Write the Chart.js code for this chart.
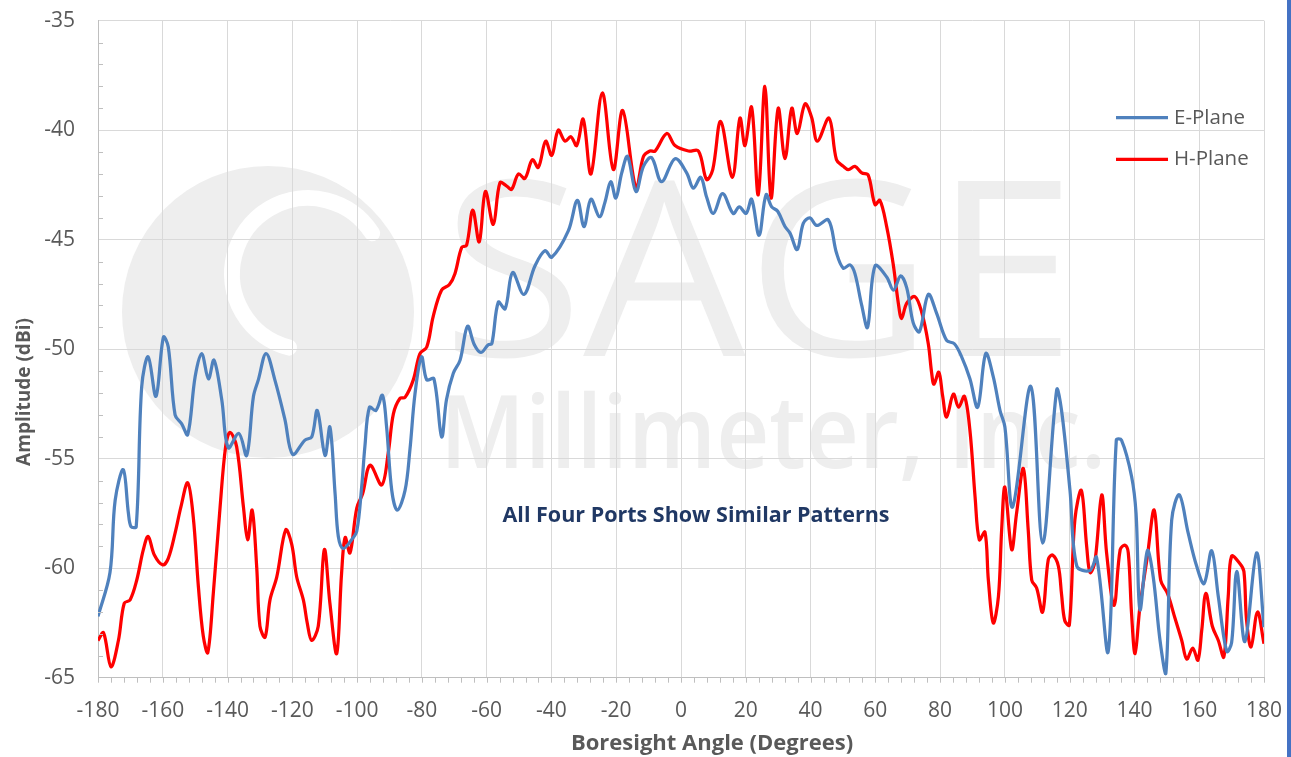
<!DOCTYPE html>
<html>
<head>
<meta charset="utf-8">
<title>Antenna Pattern</title>
<script src="https://cdn.jsdelivr.net/npm/chart.js@4.4.1/dist/chart.umd.min.js"></script>
<style>
    html, body { margin: 0; padding: 0; background: #fff; }
    #wrap { position: relative; width: 1291px; height: 757px; }
</style>
</head>
<body>
<div id="wrap"><canvas id="pattern" width="1291" height="757"></canvas></div>
<script>
"use strict";

// E-plane cut (deg, dBi)
const ePlaneAngle = [
    -180, -176.3, -174.7, -172.2, -170.6, -169.8, -168.2, -166.5, -164.5, -162.1,
    -159.8, -158.3, -156.2, -154.2, -152.3, -150.0, -148.0, -145.9, -144.2, -141.8,
    -139.8, -136.5, -134.1, -132.0, -130.5, -128.1, -125.4, -122.3, -119.9, -116.1,
    -114.0, -112.3, -109.9, -108.4, -106.8, -105.8, -104.3, -101.7, -100.1, -98.6,
    -97.6, -96.2, -94.2, -92.2, -90.9, -89.3, -87.6, -85.2, -83.7, -82.1,
    -80.1, -78.5, -76.3, -73.9, -72.4, -70.3, -68.2, -65.9, -63.8, -61.8,
    -59.5, -58.4, -56.4, -54.3, -52.0, -48.5, -45.1, -42.0, -39.9, -34.8,
    -32.0, -29.95, -27.8, -25.2, -23.5, -21.7, -20.1, -18.3, -16.5, -13.9,
    -11.6, -9.1, -6.0, -1.85, 1.75, 3.8, 6.1, 7.9, 10.0, 12.85,
    16.1, 18.0, 20.1, 21.8, 24.1, 26.25, 28.0, 29.85, 32.1, 33.65,
    35.9, 37.75, 39.8, 41.9, 45.5, 48.0, 50.1, 52.2, 53.7, 55.8,
    57.6, 59.9, 63.5, 65.6, 67.8, 69.7, 71.7, 73.6, 76.35, 78.9,
    82.0, 84.4, 86.65, 89.2, 91.6, 94.1, 96.4, 98.5, 100.0, 102.4,
    108.0, 111.65, 116.0, 117.5, 120.1, 122.2, 126.3, 128.3, 131.9, 134.4,
    136.0, 139.1, 140.5, 141.7, 144.0, 145.8, 147.9, 149.7, 151.5, 153.85,
    156.6, 159.2, 161.5, 163.85, 165.9, 168.5, 170.0, 171.6, 174.1, 177.7,
    180
];
const ePlaneDb = [
    -62.2, -60.2, -56.9, -55.5, -57.5, -58.1, -58.1, -51.7, -50.35, -52.15,
    -49.45, -49.9, -53.0, -53.4, -53.9, -51.25, -50.2, -51.35, -50.5, -52.3,
    -54.5, -53.85, -54.85, -52.15, -51.4, -50.2, -51.4, -53.2, -54.8, -54.15,
    -54.0, -52.8, -54.85, -53.55, -56.6, -58.55, -59.1, -58.7, -58.3, -56.3,
    -54.45, -52.65, -52.8, -52.1, -53.55, -56.45, -57.35, -56.45, -54.6, -52.0,
    -50.35, -51.4, -51.35, -54.0, -52.3, -51.1, -50.5, -48.95, -49.8, -50.15,
    -49.8, -49.75, -47.85, -48.15, -46.5, -47.5, -46.2, -45.5, -45.8, -44.6,
    -43.2, -44.4, -43.15, -43.95, -43.3, -42.35, -43.1, -41.95, -41.2, -42.8,
    -41.65, -41.25, -42.35, -41.3, -41.95, -42.65, -42.15, -43.05, -43.8, -42.9,
    -43.8, -43.5, -43.8, -43.15, -44.8, -42.95, -43.5, -43.7, -44.4, -44.7,
    -45.45, -44.25, -44.0, -44.35, -44.1, -45.6, -46.3, -46.15, -46.55, -48.0,
    -49.0, -46.2, -46.7, -47.3, -46.65, -47.2, -48.8, -49.2, -47.5, -48.35,
    -49.6, -49.75, -50.35, -51.35, -52.65, -50.2, -51.25, -52.8, -53.55, -57.2,
    -51.7, -58.85, -51.85, -52.8, -56.45, -59.9, -60.1, -59.5, -63.8, -54.15,
    -54.15, -55.8, -57.5, -61.9, -59.2, -60.4, -63.3, -64.8, -57.8, -56.65,
    -58.4, -59.9, -60.7, -59.2, -61.3, -63.8, -63.4, -60.15, -63.35, -59.3,
    -62.7
];

// H-plane cut (deg, dBi)
const hPlaneAngle = [
    -180, -178.3, -176.0, -173.7, -171.9, -170.1, -168.05, -166.0, -164.5, -162.6,
    -160.0, -158.3, -156.2, -154.4, -152.3, -150.6, -149.0, -147.5, -146.1, -144.4,
    -142.3, -140.6, -139.25, -137.2, -135.1, -133.8, -132.4, -131.0, -130.0, -128.4,
    -126.9, -124.8, -122.05, -120.2, -118.65, -116.6, -115.4, -114.05, -112.0, -110.1,
    -108.4, -106.3, -104.8, -103.7, -102.2, -100.1, -98.3, -96.0, -92.4, -90.4,
    -88.8, -86.8, -85.2, -82.65, -80.6, -78.5, -76.5, -73.9, -71.5, -69.8,
    -67.7, -66.2, -64.3, -62.3, -60.4, -57.95, -55.9, -53.8, -52.3, -50.2,
    -48.2, -45.9, -44.05, -41.8, -39.9, -37.9, -35.8, -34.0, -32.2, -30.2,
    -27.8, -24.3, -20.9, -18.0, -13.9, -11.6, -9.6, -8.0, -4.4, -1.85,
    2.3, 5.4, 7.9, 9.8, 12.25, 15.85, 18.2, 19.75, 21.8, 23.85,
    25.9, 27.8, 30.0, 32.1, 34.2, 35.9, 38.3, 40.3, 42.1, 45.7,
    48.0, 50.1, 51.65, 53.7, 55.8, 57.8, 59.9, 61.4, 63.5, 65.5,
    67.1, 68.1, 69.7, 72.2, 74.3, 76.35, 77.4, 78.1, 79.6, 80.8,
    82.0, 84.1, 85.7, 87.5, 89.2, 90.8, 92.1, 93.85, 94.9, 96.4,
    98.0, 99.0, 100.0, 102.1, 103.6, 105.7, 107.2, 108.3, 109.8, 111.65,
    113.4, 114.75, 116.5, 117.5, 118.5, 119.9, 121.6, 123.6, 125.25, 126.3,
    127.8, 129.9, 131.4, 133.7, 135.6, 137.1, 138.1, 139.1, 140.2, 141.7,
    144.0, 146.1, 148.1, 150.2, 152.55, 154.6, 156.15, 158.0, 159.6, 160.8,
    162.05, 164.05, 165.9, 167.6, 168.95, 170.0, 172.6, 173.8, 174.6, 176.0,
    178.0, 180
];
const hPlaneDb = [
    -63.3, -62.95, -64.5, -63.3, -61.6, -61.45, -60.55, -59.15, -58.55, -59.4,
    -59.85, -59.55, -58.4, -57.2, -56.1, -57.65, -60.85, -63.1, -63.85, -61.15,
    -57.2, -54.45, -53.8, -54.45, -57.2, -58.7, -57.35, -59.95, -62.65, -63.15,
    -61.45, -60.4, -58.25, -58.9, -60.4, -61.45, -62.5, -63.3, -62.65, -59.15,
    -61.6, -63.9, -60.25, -58.6, -59.3, -57.25, -56.6, -55.3, -56.2, -54.75,
    -52.95, -52.25, -52.2, -51.4, -50.2, -49.9, -48.5, -47.3, -47.05, -46.55,
    -45.35, -45.25, -43.65, -45.1, -42.8, -44.3, -42.4, -42.55, -42.7, -42.0,
    -42.2, -41.35, -41.7, -40.5, -41.15, -40.0, -40.5, -40.3, -40.7, -39.5,
    -42.0, -38.3, -41.8, -39.1, -42.65, -41.2, -40.95, -40.95, -40.15, -40.7,
    -40.95, -40.95, -42.25, -41.8, -39.6, -42.15, -39.45, -40.7, -38.95, -42.95,
    -38.0, -43.1, -39.0, -41.3, -39.0, -40.15, -38.8, -39.4, -40.5, -39.45,
    -41.35, -41.65, -41.8, -41.65, -41.95, -42.05, -43.4, -43.2, -44.4, -46.1,
    -47.9, -48.6, -47.9, -47.6, -48.3, -49.75, -51.1, -51.6, -51.05, -52.15,
    -53.1, -52.05, -52.65, -52.15, -53.7, -56.75, -58.7, -58.35, -60.55, -62.5,
    -61.3, -58.25, -56.3, -59.15, -57.5, -55.45, -58.25, -60.55, -60.9, -62.0,
    -59.6, -59.4, -59.9, -61.2, -62.4, -62.6, -57.8, -56.45, -59.0, -60.2,
    -59.7, -56.65, -59.3, -61.7, -59.15, -58.95, -59.3, -62.05, -63.9, -61.75,
    -59.45, -57.35, -60.55, -61.15, -62.3, -63.3, -64.15, -63.65, -64.2, -62.8,
    -61.15, -62.65, -63.3, -64.05, -61.3, -59.45, -59.8, -60.15, -62.35, -63.6,
    -62.0, -63.45
];

const angleTicks = [-180, -160, -140, -120, -100, -80, -60, -40, -20, 0, 20, 40, 60, 80, 100, 120, 140, 160, 180];
const ampTicks = [-65, -60, -55, -50, -45, -40, -35];

const AXIS_GREY = "#bfbfbf";
const TEXT_GREY = "#595959";
const FONT = '"Open Sans", "Liberation Sans", sans-serif';

function toPoints(xs, ys) {
    return xs.map((x, i) => ({x: x, y: ys[i]}));
}

// background, company watermark, axis ticks, titles, legend, note
const decorations = {
    id: "decorations",
    beforeDraw(chart) {
        const ctx = chart.ctx;
        ctx.save();
        ctx.fillStyle = "#ffffff";
        ctx.fillRect(0, 0, chart.width, chart.height);

        // logo disc with its white swirl
        ctx.fillStyle = "#eeeeee";
        ctx.beginPath();
        ctx.arc(268, 312, 146, 0, Math.PI * 2);
        ctx.fill();
        ctx.strokeStyle = "#ffffff";
        ctx.lineCap = "round";
        ctx.lineWidth = 16;
        ctx.beginPath();
        ctx.arc(308, 274, 76, Math.PI * 0.58, Math.PI * 1.82);
        ctx.stroke();

        ctx.fillStyle = "#eeeeee";
        ctx.textBaseline = "alphabetic";
        ctx.textAlign = "left";
        ctx.font = "245px " + FONT;
        let w = ctx.measureText("SAGE").width;
        ctx.save();
        ctx.translate(442, 356);
        ctx.scale(634 / w, 1);
        ctx.fillText("SAGE", 0, 0);
        ctx.restore();

        ctx.font = "600 102px " + FONT;
        w = ctx.measureText("Millimeter, Inc.").width;
        ctx.save();
        ctx.translate(440, 468);
        ctx.scale(666 / w, 1);
        ctx.fillText("Millimeter, Inc.", 0, 0);
        ctx.restore();
        ctx.restore();
    },
    afterDraw(chart) {
        const ctx = chart.ctx;
        const xs = chart.scales.x;
        const ys = chart.scales.y;
        const area = chart.chartArea;
        ctx.save();

        // tick marks: outside on the angle axis, inside on the amplitude axis
        ctx.strokeStyle = AXIS_GREY;
        ctx.lineWidth = 1;
        ctx.beginPath();
        for (let a = -180; a <= 180; a += 4) {
            const px = Math.round(xs.getPixelForValue(a)) + 0.5;
            ctx.moveTo(px, area.bottom);
            ctx.lineTo(px, area.bottom + 5);
        }
        for (let v = -64; v < -35; v += 1) {
            if (v % 5 === 0) continue;
            const py = Math.round(ys.getPixelForValue(v)) + 0.5;
            ctx.moveTo(area.left, py);
            ctx.lineTo(area.left + 5, py);
        }
        ctx.stroke();

        // axis titles
        ctx.fillStyle = TEXT_GREY;
        ctx.textAlign = "center";
        ctx.textBaseline = "middle";
        ctx.font = "bold 22px " + FONT;
        ctx.fillText("Boresight Angle (Degrees)", 712, 744);
        ctx.font = "bold 19px " + FONT;
        ctx.save();
        ctx.translate(25, 392);
        ctx.rotate(-Math.PI / 2);
        ctx.fillText("Amplitude (dBi)", 0, 0);
        ctx.restore();

        // legend
        ctx.font = "20.5px " + FONT;
        ctx.textAlign = "left";
        chart.data.datasets.forEach((ds, i) => {
            const y = 117.7 + i * 41.6;
            ctx.strokeStyle = ds.borderColor;
            ctx.lineWidth = ds.borderWidth;
            ctx.beginPath();
            ctx.moveTo(1116, y);
            ctx.lineTo(1168, y);
            ctx.stroke();
            ctx.fillText(ds.label, 1174, y);
        });

        // note
        ctx.fillStyle = "#203864";
        ctx.font = "bold 21.5px " + FONT;
        ctx.textAlign = "center";
        ctx.fillText("All Four Ports Show Similar Patterns", 696, 516);

        // frame edge
        ctx.fillStyle = "#4472c4";
        ctx.fillRect(1287, 0, 4, chart.height);
        ctx.restore();
    }
};

const ctx = document.getElementById("pattern").getContext("2d");

// tick label offsets go through tickLength (invisible) so they don't add to the layout padding
new Chart(ctx, {
    type: "line",
    data: {
        datasets: [{
            label: "E-Plane",
            data: toPoints(ePlaneAngle, ePlaneDb),
            borderColor: "#4f81bd",
            borderWidth: 3.25,
            pointRadius: 0,
            tension: 0.35,
            fill: false
        }, {
            label: "H-Plane",
            data: toPoints(hPlaneAngle, hPlaneDb),
            borderColor: "#ff0000",
            borderWidth: 3.25,
            pointRadius: 0,
            tension: 0.35,
            fill: false
        }]
    },
    options: {
        responsive: false,
        animation: false,
        layout: {padding: {top: 20.7, right: 27, left: 0, bottom: 0}},
        plugins: {
            legend: {display: false},
            tooltip: {enabled: false}
        },
        scales: {
            x: {
                type: "linear",
                min: -180,
                max: 180,
                afterBuildTicks: s => { s.ticks = angleTicks.map(v => ({value: v})); },
                afterFit: s => { s.height = 79.3; },
                grid: {color: "#d9d9d9", lineWidth: 1, drawTicks: true, tickLength: 21, tickColor: "rgba(0,0,0,0)"},
                border: {color: AXIS_GREY, width: 1},
                ticks: {color: TEXT_GREY, font: {family: FONT, size: 21}, padding: 0, maxRotation: 0, autoSkip: false}
            },
            y: {
                min: -65,
                max: -35,
                afterBuildTicks: s => { s.ticks = ampTicks.map(v => ({value: v})); },
                afterFit: s => { s.width = 98; },
                grid: {color: "#d9d9d9", lineWidth: 1, drawTicks: true, tickLength: 23, tickColor: "rgba(0,0,0,0)"},
                border: {color: AXIS_GREY, width: 1},
                ticks: {color: TEXT_GREY, font: {family: FONT, size: 21}, padding: 0}
            }
        }
    },
    plugins: [decorations]
});
</script>
</body>
</html>
